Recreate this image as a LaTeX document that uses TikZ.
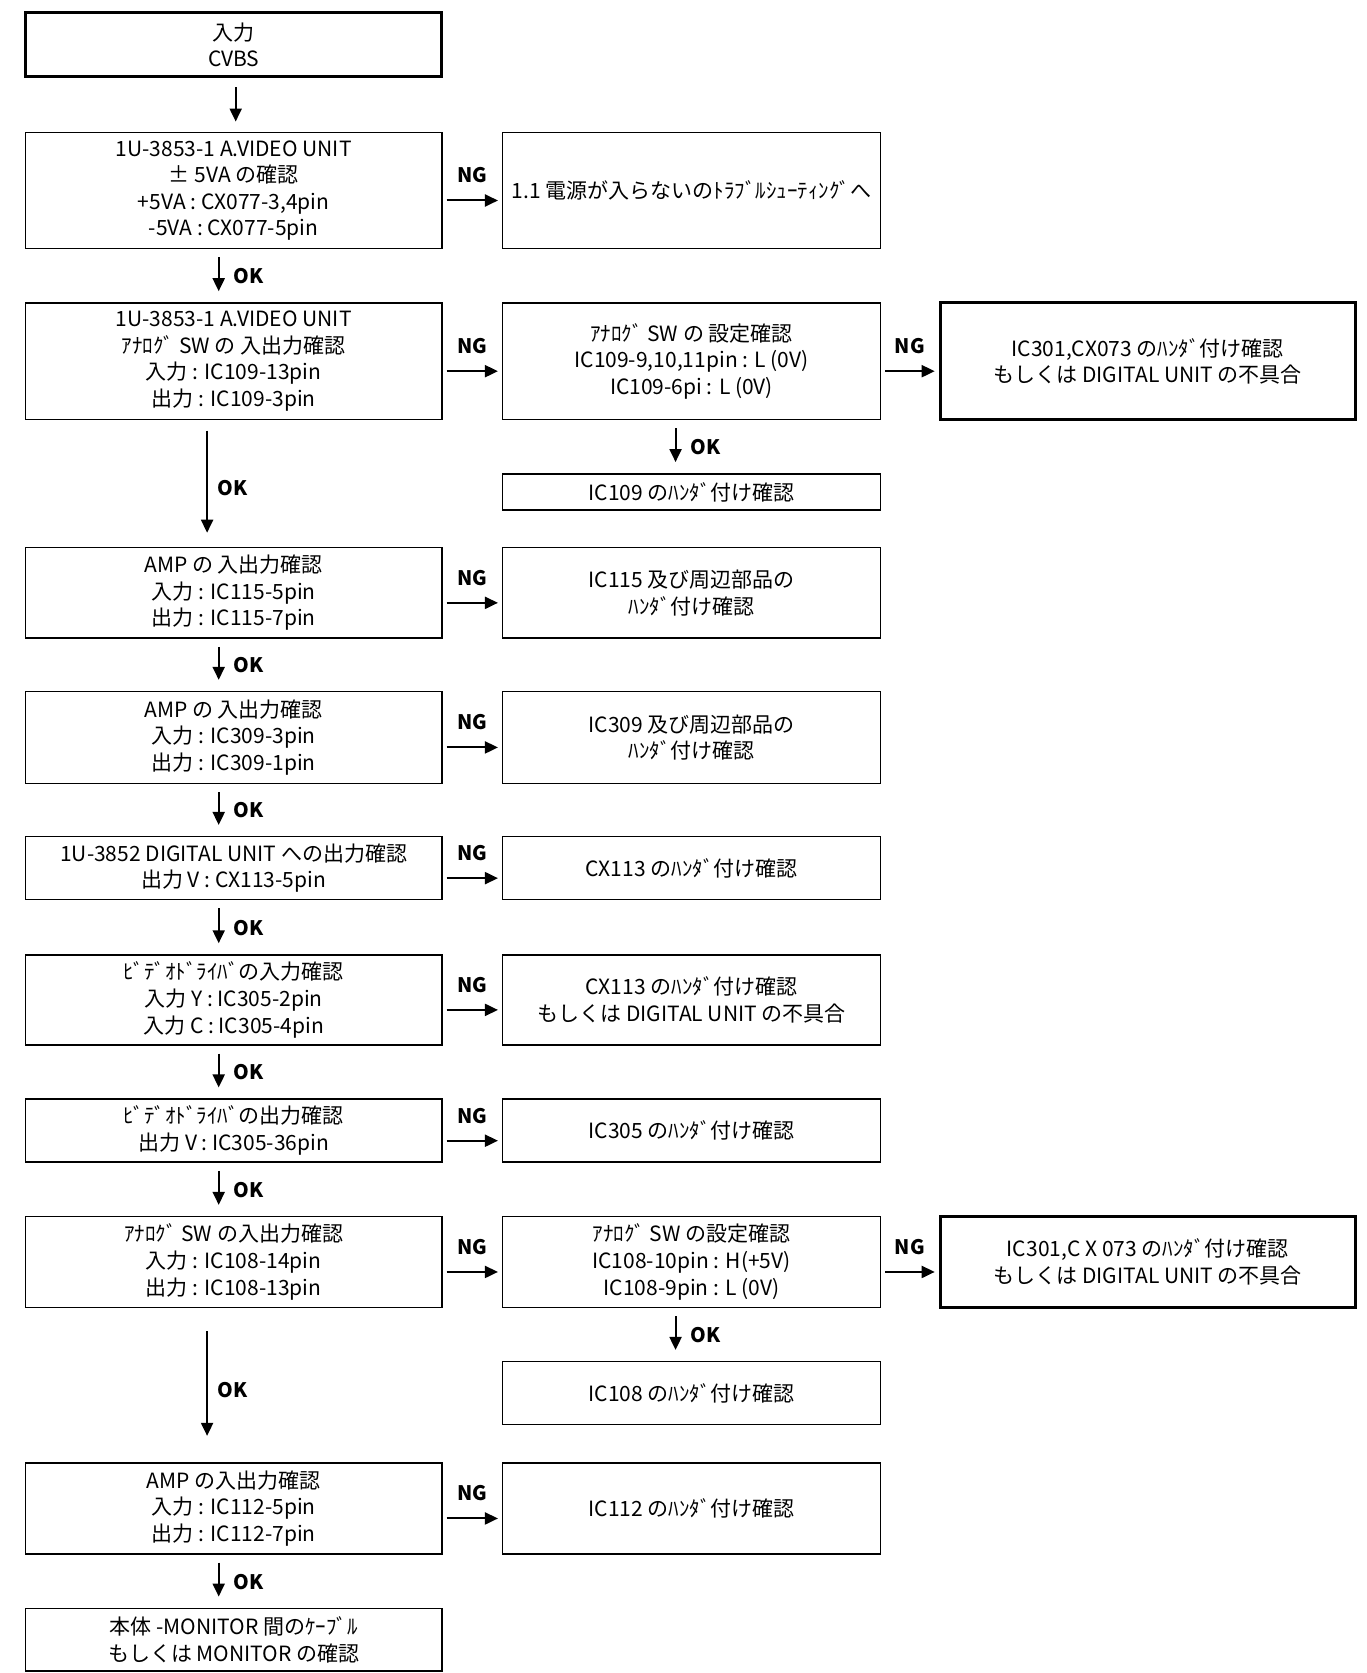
\documentclass[tikz,border=0pt]{standalone}
\usepackage{fontspec}
\setmainfont{Noto Sans CJK JP}
\usetikzlibrary{arrows.meta}
\newcommand\mybox[7][]{%
  \pgfmathsetmacro\mbw{(#5-#3)*0.5}%
  \pgfmathsetmacro\mbh{(#6-#4)*0.5}%
  \node[box,#1,minimum width=\mbw pt,minimum height=\mbh pt] (#2) at ({(#3+#5)/2},{(#4+#6)/2}) {#7};%
}
\newcommand\ngarrow[2]{%
  \draw[arr] ([xshift=2pt,yshift=-5pt]#1.east) -- ([xshift=-2pt,yshift=-5pt]#2.west)
    node[lab,midway,yshift=12.5pt] {NG};%
}
\newcommand\okarrow[3]{% #1 from, #2 to, #3 xshift
  \draw[arr] ([xshift=#3,yshift=-4pt]#1.south) -- ([xshift=#3,yshift=5.5pt]#2.north)
    node[lab,midway,xshift=15pt,yshift=-1pt] {OK};%
}
\begin{document}
\begin{tikzpicture}[x=0.5pt,y=-0.5pt,
  box/.style={draw,line width=0.75pt,align=center,inner sep=2pt,
    font=\fontsize{10.5}{13.3}\selectfont},
  heavy/.style={line width=1.5pt},
  arr/.style={line width=1pt,-{Triangle[length=6.5pt,width=6pt]}},
  lab/.style={font=\bfseries\fontsize{10}{12}\selectfont,inner sep=0pt}]
\useasboundingbox (0,0) rectangle (1366,1673);
% left column
\mybox[heavy]{A}{25.6}{12.8}{441.8}{76.8}{入力\\CVBS}
\mybox{B}{25.6}{132.3}{441.8}{248.7}{1U-3853-1 A.VIDEO UNIT\\± 5VA の確認\\+5VA : CX077-3,4pin\\-5VA : CX077-5pin}
\mybox{C}{25.6}{303}{441.8}{419.4}{1U-3853-1 A.VIDEO UNIT\\ｱﾅﾛｸﾞ SW の 入出力確認\\入力 : IC109-13pin\\出力 : IC109-3pin}
\mybox{D}{25.6}{547.5}{441.8}{638.2}{AMP の 入出力確認\\入力 : IC115-5pin\\出力 : IC115-7pin}
\mybox{E}{25.6}{691.6}{441.8}{783.3}{AMP の 入出力確認\\入力 : IC309-3pin\\出力 : IC309-1pin}
\mybox{F}{25.6}{836.7}{441.8}{899.6}{1U-3852 DIGITAL UNIT への出力確認\\出力 V : CX113-5pin}
\mybox{G}{25.6}{955}{441.8}{1044.8}{ﾋﾞﾃﾞｵﾄﾞﾗｲﾊﾞの入力確認\\入力 Y : IC305-2pin\\入力 C : IC305-4pin}
\mybox{H}{25.6}{1099.2}{441.8}{1162.2}{ﾋﾞﾃﾞｵﾄﾞﾗｲﾊﾞの出力確認\\出力 V : IC305-36pin}
\mybox{I}{25.6}{1216.6}{441.8}{1307.3}{ｱﾅﾛｸﾞ SW の入出力確認\\入力 : IC108-14pin\\出力 : IC108-13pin}
\mybox{J}{25.6}{1463}{441.8}{1553.9}{AMP の入出力確認\\入力 : IC112-5pin\\出力 : IC112-7pin}
\mybox{K}{25.6}{1608.3}{441.8}{1671.2}{本体 -MONITOR 間のｹｰﾌﾞﾙ\\もしくは MONITOR の確認}
% middle column
\mybox{B2}{502.7}{132.3}{880.4}{248.7}{1.1 電源が入らないのﾄﾗﾌﾞﾙｼｭｰﾃｨﾝｸﾞへ}
\mybox{C2}{502.7}{303}{880.4}{419.4}{ｱﾅﾛｸﾞ SW の 設定確認\\IC109-9,10,11pin : L (0V)\\IC109-6pi : L (0V)}
\mybox{C4}{502.7}{473.8}{880.4}{510.1}{IC109 のﾊﾝﾀﾞ付け確認}
\mybox{D2}{502.7}{547.5}{880.4}{638.2}{IC115 及び周辺部品の\\ﾊﾝﾀﾞ付け確認}
\mybox{E2}{502.7}{691.6}{880.4}{783.3}{IC309 及び周辺部品の\\ﾊﾝﾀﾞ付け確認}
\mybox{F2}{502.7}{836.7}{880.4}{899.6}{CX113 のﾊﾝﾀﾞ付け確認}
\mybox{G2}{502.7}{955}{880.4}{1044.8}{CX113 のﾊﾝﾀﾞ付け確認\\もしくは DIGITAL UNIT の不具合}
\mybox{H2}{502.7}{1099.2}{880.4}{1162.2}{IC305 のﾊﾝﾀﾞ付け確認}
\mybox{I2}{502.7}{1216.6}{880.4}{1307.3}{ｱﾅﾛｸﾞ SW の設定確認\\IC108-10pin : H(+5V)\\IC108-9pin : L (0V)}
\mybox{I4}{502.7}{1361.7}{880.4}{1424.6}{IC108 のﾊﾝﾀﾞ付け確認}
\mybox{J2}{502.7}{1463}{880.4}{1553.9}{IC112 のﾊﾝﾀﾞ付け確認}
% right column
\mybox[heavy]{C3}{940.2}{303}{1355.3}{419.4}{IC301,CX073 のﾊﾝﾀﾞ付け確認\\もしくは DIGITAL UNIT の不具合}
\mybox[heavy]{I3}{940.2}{1216.6}{1355.3}{1307.3}{IC301,C X 073 のﾊﾝﾀﾞ付け確認\\もしくは DIGITAL UNIT の不具合}
% vertical arrows
\draw[arr] ([xshift=1pt,yshift=-4.5pt]A.south) -- ([xshift=1pt,yshift=5pt]B.north);
\okarrow{B}{C}{-7.5pt}
\okarrow{C2}{C4}{-8pt}
\draw[arr] ([xshift=-13.3pt,yshift=-5.3pt]C.south) -- ([xshift=-13.3pt,yshift=7pt]D.north)
  node[lab,midway,xshift=12.8pt,yshift=-3pt] {OK};
\okarrow{D}{E}{-7.5pt}
\okarrow{E}{F}{-7.5pt}
\okarrow{F}{G}{-7.5pt}
\okarrow{G}{H}{-7.5pt}
\okarrow{H}{I}{-7.5pt}
\okarrow{I2}{I4}{-8pt}
\draw[arr] ([xshift=-13.3pt,yshift=-11.7pt]I.south) -- ([xshift=-13.3pt,yshift=13.2pt]J.north)
  node[lab,midway,xshift=12.8pt,yshift=-3pt] {OK};
\okarrow{J}{K}{-7.5pt}
% NG arrows
\ngarrow{B}{B2}
\ngarrow{C}{C2}
\ngarrow{C2}{C3}
\ngarrow{D}{D2}
\ngarrow{E}{E2}
\ngarrow{F}{F2}
\ngarrow{G}{G2}
\ngarrow{H}{H2}
\ngarrow{I}{I2}
\ngarrow{I2}{I3}
\ngarrow{J}{J2}
\end{tikzpicture}
\end{document}
